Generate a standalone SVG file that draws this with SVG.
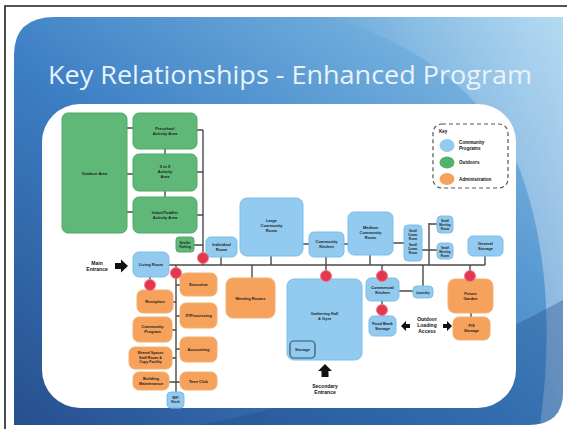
<svg xmlns="http://www.w3.org/2000/svg" width="569" height="432" viewBox="0 0 569 432">
<defs>
<linearGradient id="bg" x1="0" y1="1" x2="1" y2="0">
<stop offset="0" stop-color="#274f8e"/>
<stop offset="0.45" stop-color="#3c7fc4"/>
<stop offset="1" stop-color="#8cc6ea"/>
</linearGradient>
<linearGradient id="sw" x1="0" y1="0" x2="1" y2="0">
<stop offset="0" stop-color="#ffffff" stop-opacity="0"/>
<stop offset="1" stop-color="#ffffff" stop-opacity="0.35"/>
</linearGradient>
<style>
.g{fill:#5fb878;stroke:#4ea868;stroke-width:1}
.b{fill:#92cbef;stroke:#7dbde8;stroke-width:1}
.o{fill:#f6a15c;stroke:#f2b070;stroke-width:1}
.c{fill:none;stroke:#4a4a4a;stroke-width:1.4}
.d{fill:#e3364f;stroke:#f27a8a;stroke-width:1}
.t{font-family:"Liberation Sans",Arial,sans-serif;font-weight:bold;font-size:4px;fill:#1d1d1d;text-anchor:middle}
.l{font-family:"Liberation Sans",Arial,sans-serif;font-weight:bold;font-size:5px;fill:#111;text-anchor:middle}
.k{font-family:"Liberation Sans",Arial,sans-serif;font-weight:bold;font-size:4.6px;fill:#111}
.ar{fill:#111}
</style>
</defs>
<rect width="569" height="432" fill="#ffffff"/>
<path d="M5 429 V6 H567" fill="none" stroke="#1e1e1e" stroke-width="1.6"/>
<path d="M14 55 Q14 17 55 17 H563 V392 Q563 425 528 425 H14 Z" fill="url(#bg)"/>
<path d="M330 17 Q470 60 520 170 Q560 280 540 425 H528 Q563 425 563 392 V17 Z" fill="url(#sw)"/>
<path d="M200 425 Q420 380 563 300 V392 Q563 425 528 425 Z" fill="#1f4a86" opacity="0.35"/>
<text x="48" y="84" textLength="484" lengthAdjust="spacingAndGlyphs" font-family="'Open Sans','DejaVu Sans',sans-serif" font-size="25" fill="#e8f3fb">Key Relationships - Enhanced Program</text>
<rect x="42" y="104" width="474" height="304" rx="38" fill="#ffffff"/>

<g id="connectors">
<path class="c" d="M127 128H133M127 174H133M127 212H133M165 149V154M165 191V197M197 130H203M197 172H203M197 215H203M194 245H203M203 130V265"/>
<path class="c" d="M168 265H485M221 257V265M271 256V265M303 244H309M344 244H348M326 257V280M370 255V265M252 265V278M382 265V278M382 301V316M399 291H413M423 265V286M429 223V265M429 224H437M422 250H437M393 243H404M485 256V265M470 265V279M471 313V317"/>
<path class="c" d="M176 265V392M173 302H176M172 330H176M172 358H176M169 382H176M176 285H180M176 316H180M176 349H180M176 382H180M150 277V290"/>
</g>

<g id="outdoor-area"><rect class="g" x="62" y="113" width="65" height="120" rx="6"/><text class="t" x="94.5" y="175">Outdoor Area</text></g>
<g id="preschool"><rect class="g" x="133" y="113" width="64" height="36" rx="6"/><text class="t" x="165" y="130">Preschool</text><text class="t" x="165" y="135">Activity Area</text></g>
<g id="five-to-nine"><rect class="g" x="133" y="154" width="64" height="37" rx="6"/><text class="t" x="165" y="168">5 to 9</text><text class="t" x="165" y="173">Activity</text><text class="t" x="165" y="178">Area</text></g>
<g id="infant-toddler"><rect class="g" x="133" y="197" width="64" height="36" rx="6"/><text class="t" x="165" y="214">Infant/Toddler</text><text class="t" x="165" y="219">Activity Area</text></g>
<g id="stroller-parking"><rect class="g" x="176" y="237" width="18" height="15" rx="3"/><text class="t" x="185" y="243.5" style="font-size:3.2px">Stroller</text><text class="t" x="185" y="247.5" style="font-size:3.2px">Parking</text></g>

<g id="living-room"><rect class="b" x="133" y="252" width="36" height="25" rx="6"/><text class="t" x="151" y="266">Living Room</text></g>
<g id="individual-room"><rect class="b" x="206" y="237" width="31" height="20" rx="5"/><text class="t" x="221.5" y="246">Individual</text><text class="t" x="221.5" y="251">Room</text></g>
<g id="large-community-room"><rect class="b" x="240" y="198" width="63" height="58" rx="7"/><text class="t" x="271.5" y="222">Large</text><text class="t" x="271.5" y="227">Community</text><text class="t" x="271.5" y="232">Room</text></g>
<g id="community-kitchen"><rect class="b" x="309" y="232" width="35" height="25" rx="5"/><text class="t" x="326.5" y="243">Community</text><text class="t" x="326.5" y="248">Kitchen</text></g>
<g id="medium-community-room"><rect class="b" x="348" y="212" width="45" height="43" rx="6"/><text class="t" x="370.5" y="229">Medium</text><text class="t" x="370.5" y="234">Community</text><text class="t" x="370.5" y="239">Room</text></g>
<g id="small-community-rooms"><rect class="b" x="404" y="225" width="18" height="36" rx="4"/><text class="t" x="413" y="232" style="font-size:3px">Small</text><text class="t" x="413" y="236" style="font-size:3px">Comm.</text><text class="t" x="413" y="240" style="font-size:3px">Room</text><text class="t" x="413" y="246" style="font-size:3px">Small</text><text class="t" x="413" y="250" style="font-size:3px">Comm.</text><text class="t" x="413" y="254" style="font-size:3px">Room</text></g>
<g id="small-meeting-1"><rect class="b" x="437" y="216" width="16" height="17" rx="4"/><text class="t" x="445" y="222" style="font-size:3px">Small</text><text class="t" x="445" y="226" style="font-size:3px">Meeting</text><text class="t" x="445" y="230" style="font-size:3px">Room</text></g>
<g id="small-meeting-2"><rect class="b" x="437" y="243" width="16" height="16" rx="4"/><text class="t" x="445" y="249" style="font-size:3px">Small</text><text class="t" x="445" y="253" style="font-size:3px">Meeting</text><text class="t" x="445" y="257" style="font-size:3px">Room</text></g>
<g id="general-storage"><rect class="b" x="468" y="236" width="35" height="20" rx="5"/><text class="t" x="485.5" y="245">General</text><text class="t" x="485.5" y="250">Storage</text></g>
<g id="gathering-hall"><rect class="b" x="287" y="279" width="75" height="81" rx="7"/><text class="t" x="324.5" y="315">Gathering Hall</text><text class="t" x="324.5" y="320">&amp; Gym</text><rect x="290" y="341" width="25" height="17" rx="4" fill="#92cbef" stroke="#2d5677" stroke-width="1.2"/><text class="t" x="302.5" y="351">Storage</text></g>
<g id="commercial-kitchen"><rect class="b" x="366" y="278" width="33" height="23" rx="5"/><text class="t" x="382.5" y="288.5">Commercial</text><text class="t" x="382.5" y="293.5">Kitchen</text></g>
<g id="food-bank-storage"><rect class="b" x="369" y="316" width="27" height="20" rx="5"/><text class="t" x="382.5" y="325">Food Bank</text><text class="t" x="382.5" y="330">Storage</text></g>
<g id="laundry"><rect class="b" x="413" y="286" width="20" height="12" rx="4"/><text class="t" x="423" y="293.5" style="font-size:3.4px">Laundry</text></g>
<g id="wifi-kiosk"><rect class="b" x="167" y="392" width="17" height="16" rx="4"/><text class="t" x="175.5" y="399" style="font-size:3.2px">WiFi</text><text class="t" x="175.5" y="403" style="font-size:3.2px">Kiosk</text></g>

<g id="meeting-rooms"><rect class="o" x="226" y="278" width="49" height="40" rx="7"/><text class="t" x="250.5" y="299.5">Meeting Rooms</text></g>
<g id="executive"><rect class="o" x="180" y="273" width="37" height="23" rx="6"/><text class="t" x="198.5" y="286">Executive</text></g>
<g id="reception"><rect class="o" x="137" y="290" width="36" height="23" rx="6"/><text class="t" x="155" y="303">Reception</text></g>
<g id="it-processing"><rect class="o" x="180" y="303" width="37" height="25" rx="6"/><text class="t" x="198.5" y="317">IT/Processing</text></g>
<g id="community-program"><rect class="o" x="133" y="317" width="39" height="25" rx="6"/><text class="t" x="152.5" y="328">Community</text><text class="t" x="152.5" y="333">Program</text></g>
<g id="accounting"><rect class="o" x="180" y="337" width="37" height="25" rx="6"/><text class="t" x="198.5" y="351">Accounting</text></g>
<g id="shared-spaces"><rect class="o" x="129" y="347" width="43" height="22" rx="6"/><text class="t" x="150.5" y="354" style="font-size:3.6px">Shared Spaces</text><text class="t" x="150.5" y="358.5" style="font-size:3.6px">Staff Room &amp;</text><text class="t" x="150.5" y="363" style="font-size:3.6px">Copy Facility</text></g>
<g id="building-maintenance"><rect class="o" x="133" y="372" width="36" height="18" rx="6"/><text class="t" x="151" y="380">Building</text><text class="t" x="151" y="385">Maintenance</text></g>
<g id="teen-club"><rect class="o" x="180" y="372" width="37" height="18" rx="6"/><text class="t" x="198.5" y="382.5">Teen Club</text></g>
<g id="future-garden"><rect class="o" x="448" y="279" width="45" height="34" rx="7"/><text class="t" x="470.5" y="295">Future</text><text class="t" x="470.5" y="300">Garden</text></g>
<g id="fs-storage"><rect class="o" x="453" y="317" width="37" height="23" rx="6"/><text class="t" x="471.5" y="327">F/S</text><text class="t" x="471.5" y="332">Storage</text></g>

<g id="junctions">
<circle class="d" cx="203" cy="258" r="5.5"/>
<circle class="d" cx="176" cy="273" r="5.5"/>
<circle class="d" cx="150" cy="285" r="5.5"/>
<circle class="d" cx="326" cy="276" r="5.5"/>
<circle class="d" cx="382" cy="276" r="5.5"/>
<circle class="d" cx="382" cy="310" r="5.5"/>
<circle class="d" cx="470" cy="276" r="5.5"/>
</g>

<g id="entrances">
<path class="ar" d="M115 263H121V259.5L128 266L121 272.5V269H115Z"/>
<text class="l" x="97" y="265">Main</text><text class="l" x="97" y="271">Entrance</text>
<path class="ar" d="M321.5 377V371H318L325 364L332 371H328.5V377Z"/>
<text class="l" x="325" y="388">Secondary</text><text class="l" x="325" y="394">Entrance</text>
<path class="ar" d="M410 324H406V321L401 326L406 331V328H410Z"/>
<path class="ar" d="M443 324H447V321L452 326L447 331V328H443Z"/>
<text class="l" x="427" y="321">Outdoor</text><text class="l" x="427" y="327">Loading</text><text class="l" x="427" y="333">Access</text>
</g>

<g id="key">
<rect x="433" y="124" width="75" height="64" rx="9" fill="none" stroke="#555" stroke-width="1.2" stroke-dasharray="4 3"/>
<text class="k" x="439" y="133">Key</text>
<ellipse cx="447" cy="145.5" rx="7.5" ry="6.5" fill="#92cbef"/>
<ellipse cx="447" cy="162.5" rx="7.5" ry="6" fill="#4fb36a"/>
<ellipse cx="447" cy="179" rx="7.5" ry="6" fill="#f6a15c"/>
<text class="k" x="459" y="144">Community</text><text class="k" x="459" y="149.5">Programs</text>
<text class="k" x="459" y="164">Outdoors</text>
<text class="k" x="459" y="181">Administration</text>
</g>
</svg>
